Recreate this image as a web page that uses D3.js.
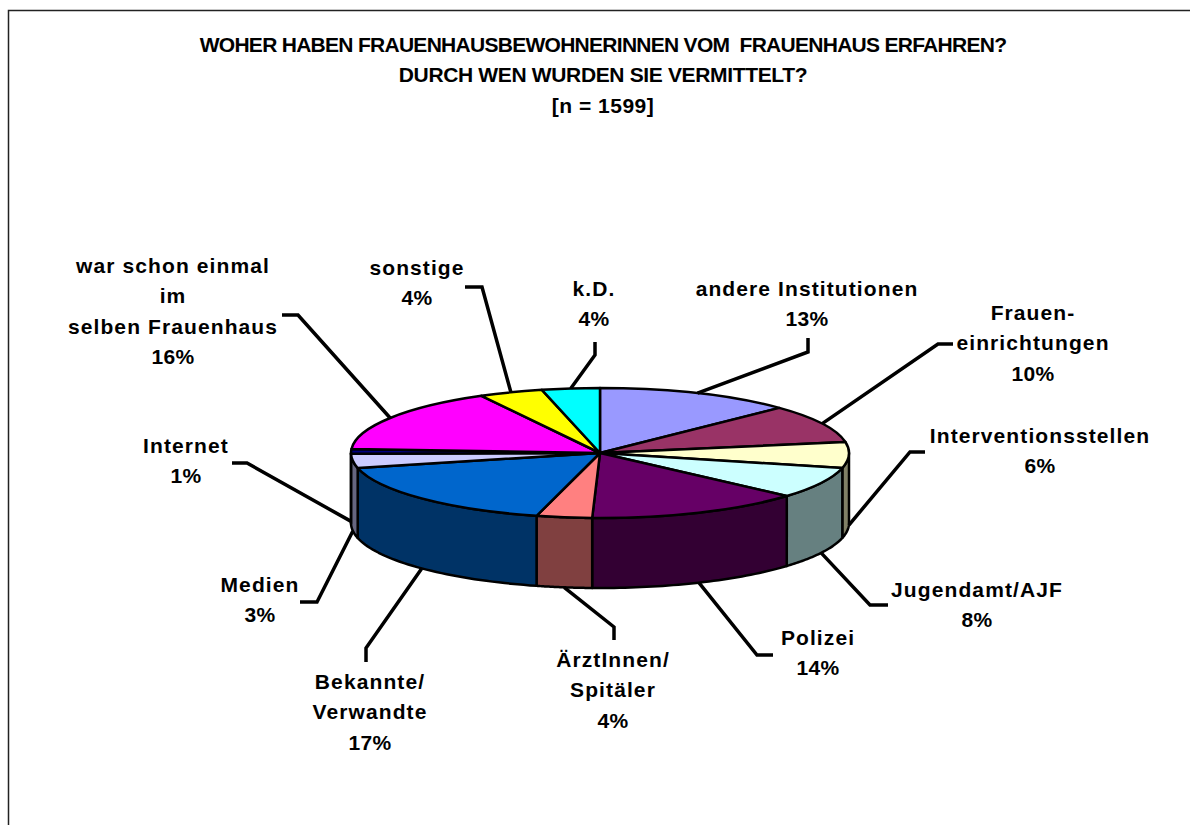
<!DOCTYPE html>
<html>
<head>
<meta charset="utf-8">
<script src="https://cdnjs.cloudflare.com/ajax/libs/d3/7.8.5/d3.min.js"></script>
<style>
html,body{margin:0;padding:0;background:#fff;overflow:hidden}
svg{display:block}
text{font-family:"Liberation Sans",Arial,sans-serif;font-weight:bold;fill:#000}
</style>
</head>
<body>
<svg id="c" width="1190" height="825"></svg>
<script>
const titleLines = ["WOHER HABEN FRAUENHAUSBEWOHNERINNEN VOM  FRAUENHAUS ERFAHREN?","DURCH WEN WURDEN SIE VERMITTELT?","[n = 1599]"];
const categories = [["andere Institutionen"],["Frauen-","einrichtungen"],["Interventionsstellen"],["Jugendamt/AJF"],["Polizei"],["ÄrztInnen/","Spitäler"],["Bekannte/","Verwandte"],["Medien"],["Internet"],["war schon einmal","im","selben Frauenhaus"],["sonstige"],["k.D."]];
const shares = [12.8,9.5,6.4,7.8,14.0,3.6,17.2,3.49,1.21,16.1,4.15,3.75];
const topColors = ["#9999FF","#993366","#FFFFCC","#CCFFFF","#660066","#FF8080","#0066CC","#CCCCFF","#000080","#FF00FF","#FFFF00","#00FFFF"];
const wallColors = ["#4D4D80","#4D1A33","#808066","#668080","#330033","#804040","#003366","#666680","#000040","#800080","#808000","#008080"];

/* layout, separate from the data */
const titleLayout = [{y:52,ls:-0.72},{y:82,ls:-0.35},{y:113,ls:0.5}];
const labelLayout = [
 {x:807,y:296,elbow:[808,352],end:[808,338],wall:false},
 {x:1033,y:320,elbow:[938,344],end:[953,344],wall:false},
 {x:1040,y:443,elbow:[910,452],end:[925,452],wall:true},
 {x:977,y:597,elbow:[870,605],end:[888,605],wall:true},
 {x:818,y:645,elbow:[757,655],end:[773,655],wall:true},
 {x:613,y:667,elbow:[614,627],end:[614,640],wall:true},
 {x:370,y:689,elbow:[366,648],end:[366,662],wall:true},
 {x:260,y:592,elbow:[317,602],end:[300,602],wall:true},
 {x:186,y:453,elbow:[247,463],end:[232,463],wall:true},
 {x:173,y:273,elbow:[298,315],end:[282,315],wall:false},
 {x:417,y:275,elbow:[482,287],end:[465,287],wall:false},
 {x:594,y:296,elbow:[595,355],end:[595,342],wall:false}
];
const cx=600, cy=453, rx=249, ry=65, depth=70, lh=30.3;

const svg=d3.select("#c");
svg.append("path").attr("d","M8.5,825V10.5H1190").attr("fill","none").attr("stroke","#222").attr("stroke-width",1.5);

const titleG=svg.append("g").attr("font-size",21).attr("text-anchor","middle");
titleLines.forEach((s,i)=>titleG.append("text").attr("x",603).attr("y",titleLayout[i].y).attr("letter-spacing",titleLayout[i].ls).attr("xml:space","preserve").text(s));

const pie=d3.pie().sort(null).value(d=>d)(shares);
const px=a=>cx+rx*Math.sin(a), py=a=>cy-ry*Math.cos(a);
const line=d3.line();

/* side walls: visible only on the front half of the ellipse */
const frontStart=Math.PI/2, frontEnd=Math.PI*1.5;
const walls=svg.append("g");
pie.forEach((p,i)=>{
  const a0=Math.max(p.startAngle,frontStart), a1=Math.min(p.endAngle,frontEnd);
  if(a1<=a0) return;
  const samples=d3.range(0,41).map(k=>a0+(a1-a0)*k/40);
  const pts=samples.map(a=>[px(a),py(a)]).concat(samples.slice().reverse().map(a=>[px(a),py(a)+depth]));
  walls.append("path").attr("d",line(pts)+"Z").attr("fill",wallColors[i]).attr("stroke","#000").attr("stroke-width",2.5).attr("stroke-linejoin","round");
});

/* top face drawn with d3.arc in circle space, squashed to the ellipse */
const arc=d3.arc().innerRadius(0).outerRadius(rx);
const face=svg.append("g").attr("transform",`translate(${cx},${cy}) scale(1,${ry/rx})`);
face.selectAll("path").data(pie).join("path").attr("d",arc).attr("fill",(d,i)=>topColors[i]).attr("stroke","#000").attr("stroke-width",2.5).attr("vector-effect","non-scaling-stroke").attr("stroke-linejoin","round");

/* leaders */
const leaders=svg.append("g");
pie.forEach((p,i)=>{
  const m=(p.startAngle+p.endAngle)/2, L=labelLayout[i];
  const start=[px(m),py(m)+(L.wall?depth:0)];
  leaders.append("path").attr("d",line([start,L.elbow,L.end])).attr("fill","none").attr("stroke","#000").attr("stroke-width",3.5);
});

/* labels */
const labels=svg.append("g").attr("font-size",21).attr("text-anchor","middle");
pie.forEach((p,i)=>{
  const L=labelLayout[i];
  categories[i].forEach((s,k)=>labels.append("text").attr("x",L.x).attr("y",L.y+k*lh).attr("letter-spacing",1.1).text(s));
  labels.append("text").attr("x",L.x).attr("y",L.y+categories[i].length*lh).attr("letter-spacing",0.3).text(Math.round(shares[i])+"%");
});
</script>
</body>
</html>
